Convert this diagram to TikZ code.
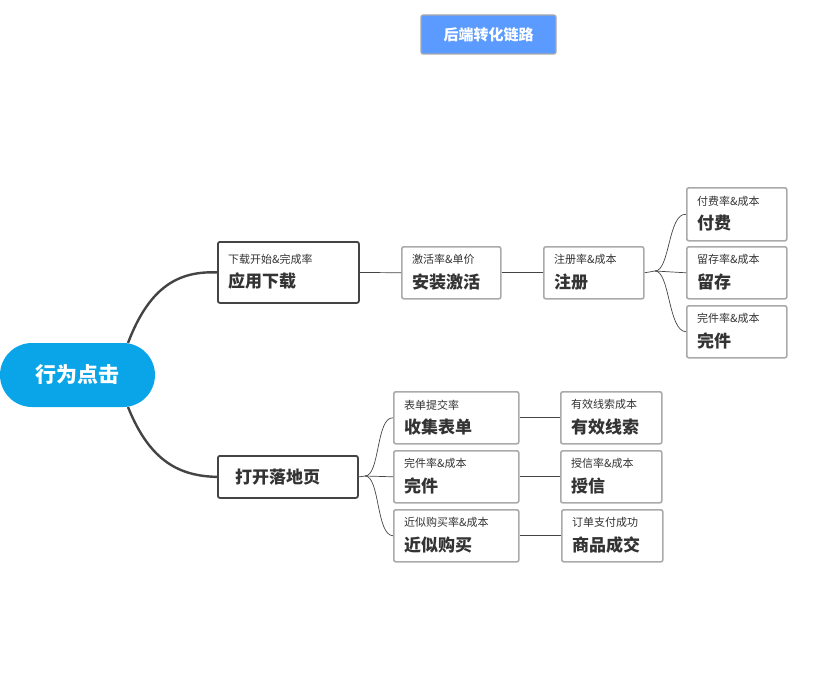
\documentclass[tikz,border=0pt]{standalone}
\usepackage{fontspec}
\setmainfont{Noto Sans CJK SC}
\definecolor{hdr}{HTML}{5B9BFF}
\definecolor{root}{HTML}{0AA5E8}
\definecolor{dk}{HTML}{444444}
\definecolor{gr}{HTML}{AAAAAA}
\definecolor{txt}{HTML}{333333}
\begin{document}
\begin{tikzpicture}[x=1pt,y=-1pt,
 box/.style={draw=gr,line width=1.6pt,rounded corners=2pt,fill=white,anchor=north west,inner sep=0pt},
 dbox/.style={draw=dk,line width=1.8pt,rounded corners=2pt,fill=white,anchor=north west,inner sep=0pt},
 thin/.style={draw=dk,line width=0.7pt},
 thick/.style={draw=dk,line width=2.4pt}]
\useasboundingbox (0,0) rectangle (825,685);
\newcommand{\bx}[7]{% name style x1 y1 x2 y2 {title}{sub}
}
% helper via explicit nodes
\def\mk#1#2#3#4#5#6#7#8{\node[#2,minimum width=#5-#3,minimum height=#6-#4] (#1) at (#3,#4) {};
 \node[anchor=west,inner sep=0pt,text=txt] at ([xshift=11pt,yshift=-9pt]#1.west) {\fontsize{17}{17}\selectfont\bfseries #7};
 \node[anchor=west,inner sep=0pt,text=txt] at ([xshift=11pt,yshift=13pt]#1.west) {\fontsize{11}{11}\selectfont #8};}
\node[fill=hdr,draw=gr,line width=1.2pt,rounded corners=2pt,minimum width=135,minimum height=39,text=white,font=\fontsize{15}{15}\selectfont\bfseries] (t) at (488.5,34.5) {后端转化链路};
\node[fill=root,rounded corners=32pt,minimum width=155,minimum height=64,inner sep=0pt,text=white,font=\fontsize{21}{21}\selectfont\bfseries] (r) at (77.5,375) {行为点击};
\mk{a}{dbox}{217}{241}{358}{302}{应用下载}{下载开始\&完成率}
\node[dbox,minimum width=140,minimum height=42] (b) at (217,455) {};
\node[anchor=west,inner sep=0pt,text=txt,font=\fontsize{17}{17}\selectfont\bfseries] at ([xshift=18pt]b.west) {打开落地页};
\mk{c}{box}{401}{246}{500}{298}{安装激活}{激活率\&单价}
\mk{d}{box}{543}{246}{643}{298}{注册}{注册率\&成本}
\mk{e1}{box}{686}{187}{786}{240}{付费}{付费率\&成本}
\mk{e2}{box}{686}{246}{786}{298}{留存}{留存率\&成本}
\mk{e3}{box}{686}{305}{786}{357}{完件}{完件率\&成本}
\mk{f1}{box}{393}{391}{518}{443}{收集表单}{表单提交率}
\mk{f2}{box}{393}{450}{518}{502}{完件}{完件率\&成本}
\mk{f3}{box}{393}{509}{518}{561}{近似购买}{近似购买率\&成本}
\mk{g1}{box}{560}{391}{661}{443}{有效线索}{有效线索成本}
\mk{g2}{box}{560}{450}{661}{502}{授信}{授信率\&成本}
\mk{g3}{box}{561}{509}{662}{561}{商品成交}{订单支付成功}
\begin{scope}[on background layer/.style={}]
\end{scope}
\draw[thick] (128,343) .. controls (150,285) and (180,271) .. (a.west);
\draw[thick] (128,407) .. controls (150,462) and (180,476) .. (b.west);
\draw[thin] (a.east) -- (c.west);
\draw[thin] (c.east) -- (d.west);
\coordinate (dj) at (655,271);
\draw[thin] (d.east) -- (dj);
\draw[thin] (dj) .. controls (670,271) and (668,213) .. (e1.west);
\draw[thin] (dj) -- (e2.west);
\draw[thin] (dj) .. controls (670,271) and (668,331) .. (e3.west);
\coordinate (bj) at (365,476);
\draw[thin] (b.east) -- (bj);
\draw[thin] (bj) .. controls (380,476) and (376,417) .. (f1.west);
\draw[thin] (bj) -- (f2.west);
\draw[thin] (bj) .. controls (380,476) and (376,535) .. (f3.west);
\draw[thin] (f1.east) -- (g1.west);
\draw[thin] (f2.east) -- (g2.west);
\draw[thin] (f3.east) -- (g3.west);
\end{tikzpicture}
\end{document}
